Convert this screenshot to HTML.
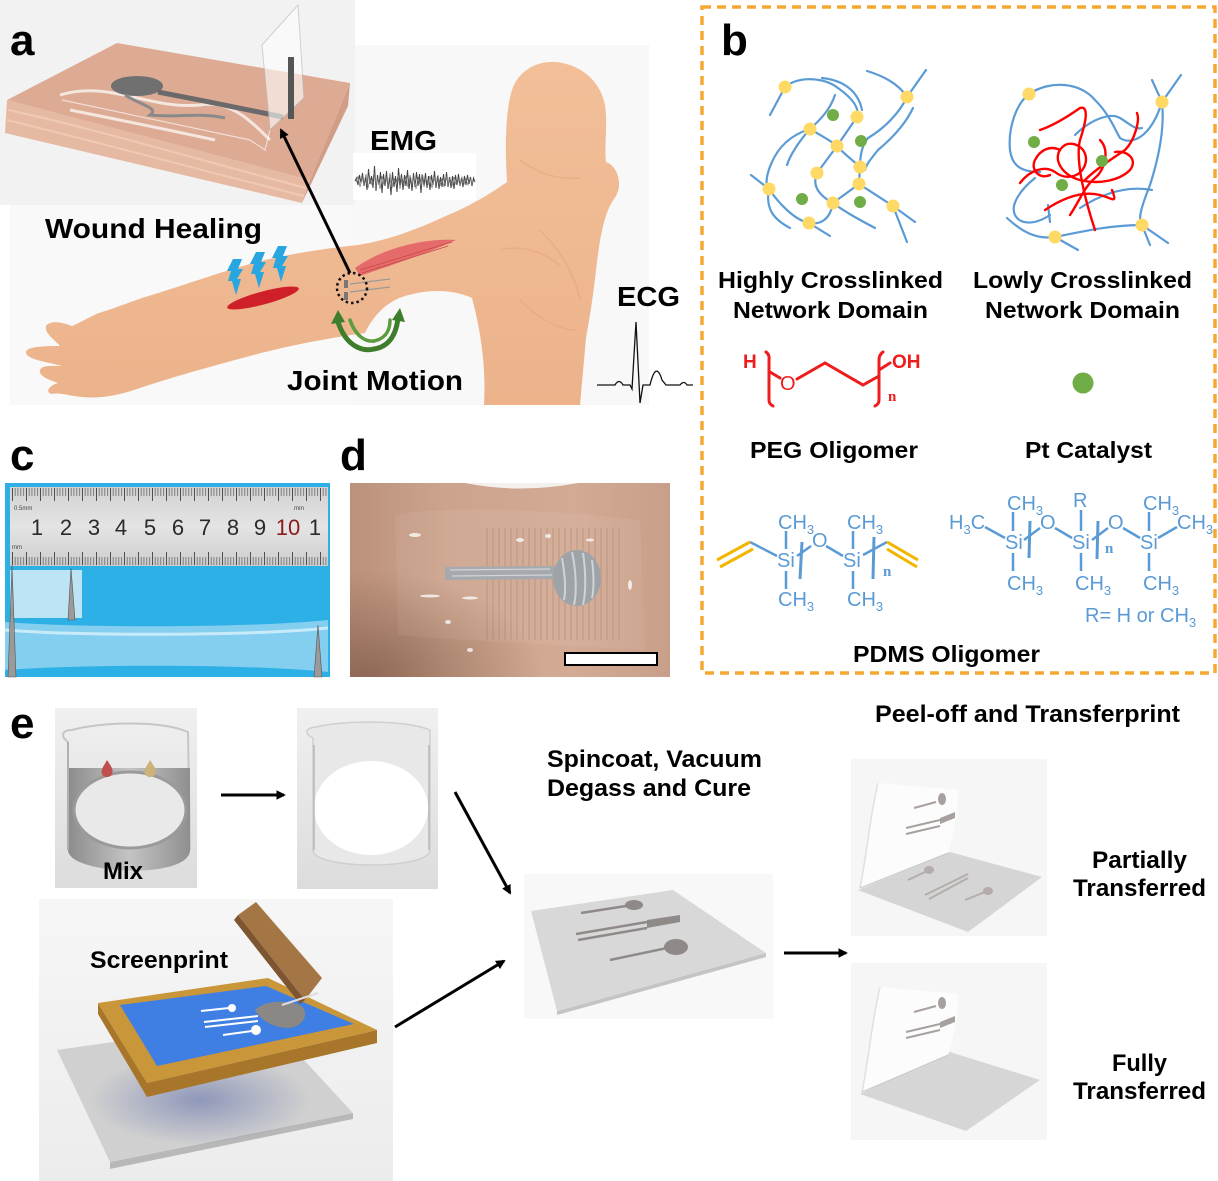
<!DOCTYPE html>
<html><head><meta charset="utf-8"><style>
html,body{margin:0;padding:0;background:#fff;width:1218px;height:1181px;overflow:hidden}
svg{display:block}
</style></head><body>
<svg xmlns="http://www.w3.org/2000/svg" width="1218" height="1181" viewBox="0 0 1218 1181" font-family="'Liberation Sans', Arial, sans-serif">
<defs>
<marker id="ar" viewBox="0 0 10 10" refX="8" refY="5" markerWidth="3.2" markerHeight="3.2" orient="auto"><path d="M0,0 L10,5 L0,10 z" fill="#000"/></marker>
<linearGradient id="skin" x1="0" y1="0" x2="0" y2="1"><stop offset="0" stop-color="#f2bf98"/><stop offset="1" stop-color="#ecb38b"/></linearGradient>
<linearGradient id="bk1" x1="0" y1="0" x2="0" y2="1"><stop offset="0" stop-color="#f0f0f0"/><stop offset="1" stop-color="#dcdcdc"/></linearGradient>
<linearGradient id="band" x1="0" y1="0" x2="1" y2="0"><stop offset="0" stop-color="#8c8c8c"/><stop offset=".5" stop-color="#c4c4c4"/><stop offset="1" stop-color="#8f8f8f"/></linearGradient>
<linearGradient id="sp" x1="0" y1="0" x2="0" y2="1"><stop offset="0" stop-color="#f6f6f6"/><stop offset="1" stop-color="#ececec"/></linearGradient>
<linearGradient id="ruler" x1="0" y1="0" x2="0" y2="1"><stop offset="0" stop-color="#d2d2d2"/><stop offset=".5" stop-color="#e4e4e4"/><stop offset="1" stop-color="#cdcdcd"/></linearGradient>
<linearGradient id="skinD" x1="0" y1="0" x2="1" y2="0"><stop offset="0" stop-color="#bc917b"/><stop offset=".3" stop-color="#cca48d"/><stop offset=".7" stop-color="#d3aa94"/><stop offset="1" stop-color="#c89f89"/></linearGradient>
<radialGradient id="dk" cx="0.05" cy="1" r="0.55"><stop offset="0" stop-color="#7a5644" stop-opacity=".7"/><stop offset="1" stop-color="#7a5644" stop-opacity="0"/></radialGradient>
<radialGradient id="shadowB" cx=".5" cy=".5" r=".5"><stop offset="0" stop-color="#5b6aa8" stop-opacity=".55"/><stop offset="1" stop-color="#5b6aa8" stop-opacity="0"/></radialGradient>
<pattern id="mm" x="12" y="0" width="2.8" height="50" patternUnits="userSpaceOnUse"><rect width="0.7" height="50" fill="#5a5a5a"/></pattern>
<pattern id="cm5" x="12" y="0" width="14" height="50" patternUnits="userSpaceOnUse"><rect width="0.9" height="50" fill="#444"/></pattern>
<pattern id="ridge" x="0" y="0" width="6" height="50" patternUnits="userSpaceOnUse"><rect width="2" height="50" fill="#9c7562" opacity=".2"/></pattern>
</defs>

<!-- ================= PANEL A ================= -->
<rect x="0" y="0" width="355" height="205" fill="#f2f2f2"/>
<rect x="10" y="205" width="345" height="200" fill="#f9f9f9"/>
<rect x="355" y="45" width="294" height="360" fill="#f8f8f8"/>
<rect x="353" y="153" width="123" height="47" fill="#ffffff"/>

<!-- slab -->
<polygon points="310,180 350,83 348,106 302,203" fill="#d29d86"/>
<polygon points="7,100 310,180 302,203 5,133" fill="#e6b9a2"/>
<path d="M8,110 C80,125 200,160 306,188 M7,120 C90,140 200,170 304,196" stroke="#efcab7" stroke-width="2" fill="none"/>
<polygon points="7,100 117,43 350,83 310,180" fill="#ddab94"/>
<path d="M60,95 C110,80 150,110 200,105 C230,100 250,120 270,140 M70,110 C120,120 160,128 215,140" stroke="#ffffff" stroke-width="3" fill="none" opacity=".7"/>
<path d="M62,100 L250,140 L265,150 L270,130" stroke="#ffffff" stroke-width="1.2" fill="none" opacity=".6"/>
<ellipse cx="137" cy="86" rx="26" ry="10" fill="#707070"/>
<path d="M158,92 C200,100 240,108 283,117" stroke="#6a6a6a" stroke-width="5" fill="none"/>
<path d="M125,95 C140,105 160,108 150,115 C180,118 200,112 225,118" stroke="#8a8a8a" stroke-width="3" fill="none"/>
<polygon points="262,45 298,5 304,98 270,130" fill="#ffffff" opacity=".6" stroke="#b8b8b8" stroke-width="1"/>
<rect x="288" y="57" width="6" height="62" fill="#555"/>

<!-- body + arm -->
<path d="M507,182 C505,150 505,112 512,90 C518,72 535,61 555,62 C580,64 600,80 605,105 C608,125 604,145 606,162 C618,166 624,186 614,199 C603,214 599,245 596,270 C593,298 589,322 586,338 L580,405 L484,405 C486,372 482,335 472,298 C450,288 425,290 405,296 C385,302 372,318 365,333 C330,338 290,345 250,356 C205,368 170,378 140,388 C120,395 100,399 82,397 C70,396 60,392 52,394 C45,393 48,386 58,383 C50,380 38,376 40,370 C42,365 52,366 62,366 C48,362 28,360 26,353 C25,347 40,346 60,346 C55,340 44,333 46,326 C50,320 62,322 72,326 C82,322 92,315 102,312 C118,307 130,302 142,298 C185,285 225,270 265,260 C300,252 330,248 358,245 C390,240 420,228 448,215 C470,206 490,194 507,182 Z" fill="url(#skin)"/>
<path d="M540,230 C560,250 575,275 580,300 M520,300 C540,320 560,330 575,330 M500,250 C520,245 540,250 560,265 M520,160 C540,175 560,180 580,178" stroke="#e2a57e" stroke-width="1.5" fill="none" opacity=".6"/>
<!-- muscle -->
<path d="M355,268 C380,250 420,238 456,240 C430,252 395,264 360,276 Z" fill="#e56a6a"/>
<path d="M360,270 L452,242 M362,273 L448,246" stroke="#c94848" stroke-width=".8"/>
<!-- electrodes on arm -->
<rect x="344" y="280" width="4" height="8" fill="#777"/>
<rect x="344" y="292" width="4" height="8" fill="#777"/>
<path d="M350,284 L390,279 M350,292 L390,287" stroke="#999" stroke-width="1.2"/>
<circle cx="352" cy="288" r="15" fill="none" stroke="#111" stroke-width="2.5" stroke-dasharray="2.5 3"/>
<!-- wound -->
<ellipse cx="263" cy="298" rx="37" ry="6.5" fill="#cf1f28" transform="rotate(-15 263 298)"/>
<!-- bolts -->
<g fill="#27a6e0">
<path transform="translate(227,259)" d="M6,0 L15,0 L11,10 L16,10 L10,20 L14,20 L9,36 L5,22 L1,22 L4,12 L0,12 Z"/>
<path transform="translate(250,252)" d="M6,0 L15,0 L11,10 L16,10 L10,20 L14,20 L9,36 L5,22 L1,22 L4,12 L0,12 Z"/>
<path transform="translate(272,246)" d="M6,0 L15,0 L11,10 L16,10 L10,20 L14,20 L9,36 L5,22 L1,22 L4,12 L0,12 Z"/>
</g>
<!-- joint motion arrows -->
<g fill="none" stroke="#3e7d2b" stroke-width="5" stroke-linecap="round">
<path d="M338,322 C346,346 362,352 374,349"/>
<path d="M374,349 C388,347 396,336 398,318"/>
<path d="M350,320 C356,337 366,342 374,341" stroke="#5c9c3e" stroke-width="3.5"/>
<path d="M374,341 C384,339 390,332 390,320" stroke="#5c9c3e" stroke-width="3.5"/>
</g>
<path d="M331,324 L338,310 L345,322 Z" fill="#3e7d2b"/>
<path d="M392,320 L400,308 L405,322 Z" fill="#3e7d2b"/>
<!-- big arrow -->
<line x1="350" y1="273" x2="281" y2="130" stroke="#000" stroke-width="3" marker-end="url(#ar)"/>
<!-- EMG trace -->
<polyline fill="none" stroke="#444" stroke-width="1" points="355,181 356.5,178 358,185 359.5,175 361,183 362.5,173 364,186 365.5,177 367,190 368.5,169 370,184 371.5,176 373,188 374.5,166 376,191 377.5,175 379,185 380.5,172 382,193 383.5,174 385,186 386.5,171 388,189 389.5,177 391,195 392.5,172 394,187 395.5,176 397,192 398.5,168 400,185 401.5,174 403,190 404.5,175 406,186 407.5,170 409,189 410.5,177 412,191 413.5,173 415,187 416.5,172 418,186 419.5,174 421,193 422.5,175 424,185 425.5,173 427,188 428.5,176 430,190 431.5,175 433,185 434.5,171 436,188 437.5,176 439,189 440.5,177 442,187 443.5,174 445,186 446.5,172 448,187 449.5,177 451,188 452.5,176 454,189 455.5,175 457,185 458.5,174 460,186 461.5,178 463,187 464.5,176 466,185 467.5,175 469,184 470.5,177 472,186 473.5,178 475,182"/>
<polyline fill="none" stroke="#777" stroke-width=".7" points="356,182 358,176 360,187 362,178 364,184 366,174 368,188 370,179 372,185 374,172 376,187 378,178 380,189 382,176 384,184 386,177 388,186 390,173 392,188 394,179 396,184 398,175 400,189 402,177 404,186 406,176 408,187 410,175 412,184 414,178 416,189 418,177 420,185 422,174 424,187 426,178 428,185 430,176 432,188 434,178 436,184 438,175 440,186 442,179 444,187 446,176 448,184 450,178 452,186 454,177 456,184 458,179 460,185 462,177 464,184 466,179 468,185 470,178 472,184 474,180"/>
<!-- ECG -->
<path d="M597,385 L615,385 Q619,378 623,385 L630,385 L632,389 L636,322 L640,403 L643,385 L650,385 Q656,360 662,380 L666,385 L680,385 Q684,380 687,385 L693,385" fill="none" stroke="#111" stroke-width="1.3"/>

<g font-weight="bold" fill="#000">
<text x="10" y="55" font-size="44">a</text>
<text x="45" y="238" font-size="28" textLength="217" lengthAdjust="spacingAndGlyphs">Wound Healing</text>
<text x="287" y="390" font-size="28" textLength="176" lengthAdjust="spacingAndGlyphs">Joint Motion</text>
<text x="370" y="150" font-size="28" textLength="67" lengthAdjust="spacingAndGlyphs">EMG</text>
<text x="617" y="306" font-size="28" textLength="63" lengthAdjust="spacingAndGlyphs">ECG</text>
</g>

<!-- ================= PANEL B ================= -->
<rect x="702" y="7" width="513" height="666" fill="none" stroke="#f5a933" stroke-width="3.5" stroke-dasharray="9 6"/>
<text x="721" y="55" font-size="44" font-weight="bold">b</text>

<!-- left network -->
<g fill="none" stroke="#5b9bd5" stroke-width="2.2" stroke-linecap="round">
<path d="M770,115 L785,87 C800,75 825,78 838,88 C852,98 860,108 857,117"/>
<path d="M822,78 C842,80 858,90 862,110"/>
<path d="M867,71 C887,77 900,86 907,97 L926,70"/>
<path d="M907,97 C900,112 885,128 868,138 C862,145 860,155 860,167 L859,184"/>
<path d="M913,108 C905,125 890,140 878,150 C870,160 866,165 865,170"/>
<path d="M857,117 L837,146 L817,173"/>
<path d="M810,129 C790,135 778,148 772,162 C766,175 765,185 769,189"/>
<path d="M835,95 C830,110 820,120 810,129 C800,140 790,155 787,165"/>
<path d="M751,175 L769,189 C780,205 795,220 809,223 C820,225 830,220 833,203"/>
<path d="M817,173 C812,185 818,195 833,203 L859,184 L893,206 L915,222"/>
<path d="M893,206 L907,242"/>
<path d="M809,223 L830,236"/>
<path d="M833,203 C845,212 860,220 875,228"/>
<path d="M837,146 C845,155 855,162 860,167"/>
<path d="M769,189 C765,210 775,220 790,228"/>
<path d="M810,129 C820,135 830,140 837,146"/>
</g>
<g fill="#ffd966">
<circle cx="785" cy="87" r="6.5"/><circle cx="907" cy="97" r="6.5"/><circle cx="810" cy="129" r="6.5"/><circle cx="857" cy="117" r="6.5"/><circle cx="837" cy="146" r="6.5"/><circle cx="860" cy="167" r="6.5"/><circle cx="817" cy="173" r="6.5"/><circle cx="769" cy="189" r="6.5"/><circle cx="859" cy="184" r="6.5"/><circle cx="833" cy="203" r="6.5"/><circle cx="893" cy="206" r="6.5"/><circle cx="809" cy="223" r="6.5"/>
</g>
<g fill="#70ad47">
<circle cx="833" cy="115" r="6"/><circle cx="861" cy="141" r="6"/><circle cx="802" cy="199" r="6"/><circle cx="860" cy="202" r="6"/>
</g>

<!-- right network -->
<g fill="none" stroke="#5b9bd5" stroke-width="2.2" stroke-linecap="round">
<path d="M1029,94 C1050,80 1080,82 1095,100 C1110,115 1115,130 1120,138 C1130,145 1150,140 1162,102 L1181,75"/>
<path d="M1152,80 L1162,102 C1165,130 1158,160 1150,185 C1140,210 1138,220 1142,225 L1150,245"/>
<path d="M1142,225 L1168,243"/>
<path d="M1029,94 C1015,105 1008,130 1010,150 C1012,165 1020,172 1040,172"/>
<path d="M1007,218 C1020,230 1035,240 1055,237 C1080,232 1110,225 1142,225"/>
<path d="M1055,237 L1078,250"/>
<path d="M1075,135 C1090,120 1110,112 1120,118 C1130,124 1135,130 1142,128"/>
<path d="M1035,178 C1020,190 1010,205 1015,215 C1020,225 1035,225 1050,215"/>
<path d="M1048,205 L1050,222"/>
<path d="M1080,208 C1100,195 1125,185 1152,190"/>
</g>
<g fill="none" stroke="#ff0000" stroke-width="2.4" stroke-linecap="round">
<path d="M1020,183 C1030,170 1045,165 1055,172 C1065,180 1080,178 1085,165 C1090,150 1075,140 1065,145 C1050,155 1060,175 1080,180 C1100,185 1120,180 1130,170 C1138,160 1128,150 1115,152"/>
<path d="M1040,130 C1055,125 1070,115 1080,108 C1090,105 1085,125 1080,140 C1075,160 1085,200 1095,230"/>
<path d="M1085,180 C1095,170 1110,160 1125,150 C1135,140 1140,120 1137,113"/>
<path d="M1045,210 C1060,200 1080,190 1100,195 C1112,198 1118,205 1112,190"/>
<path d="M1060,150 C1050,145 1040,150 1035,160 C1030,170 1040,180 1050,175"/>
<path d="M1100,140 C1110,150 1105,170 1095,178 C1085,186 1080,200 1070,215"/>
</g>
<g fill="#ffd966"><circle cx="1029" cy="94" r="6.5"/><circle cx="1162" cy="102" r="6.5"/><circle cx="1055" cy="237" r="6.5"/><circle cx="1142" cy="225" r="6.5"/></g>
<g fill="#70ad47"><circle cx="1034" cy="142" r="6"/><circle cx="1102" cy="161" r="6"/><circle cx="1062" cy="185" r="6"/></g>

<g font-weight="bold" fill="#000" font-size="23">
<text x="718" y="288" textLength="225" lengthAdjust="spacingAndGlyphs">Highly Crosslinked</text>
<text x="733" y="318" textLength="195" lengthAdjust="spacingAndGlyphs">Network Domain</text>
<text x="973" y="288" textLength="219" lengthAdjust="spacingAndGlyphs">Lowly Crosslinked</text>
<text x="985" y="318" textLength="195" lengthAdjust="spacingAndGlyphs">Network Domain</text>
<text x="750" y="458" textLength="168" lengthAdjust="spacingAndGlyphs">PEG Oligomer</text>
<text x="1025" y="458" textLength="127" lengthAdjust="spacingAndGlyphs">Pt Catalyst</text>
<text x="853" y="662" textLength="187" lengthAdjust="spacingAndGlyphs">PDMS Oligomer</text>
</g>

<!-- PEG -->
<g fill="#ee1c1c" stroke="none">
<text x="743" y="368" font-size="19" font-weight="bold">H</text>
<text x="780" y="390" font-size="20">O</text>
<text x="892" y="368" font-size="19" font-weight="bold">OH</text>
<text x="888" y="401" font-size="15" font-weight="bold" font-family="'Liberation Serif', serif">n</text>
</g>
<g fill="none" stroke="#ee1c1c" stroke-width="3" stroke-linecap="round">
<path d="M766,352 C770,355 769,358 769,362 L769,400 C769,403 771,405 773,406"/>
<path d="M883,352 C879,355 879,358 879,362 L879,400 C879,403 877,405 875,406"/>
<path d="M770,372 L780,378"/>
<path d="M797,379 L825,363 L863,385 L879,376"/>
<path d="M879,370 L890,363"/>
</g>
<circle cx="1083" cy="383" r="10.5" fill="#70ad47"/>

<!-- PDMS left -->
<g fill="#5b9bd5" font-size="20">
<text x="778" y="529">CH<tspan font-size="13" dy="5">3</tspan></text>
<text x="777" y="567">Si</text>
<text x="778" y="606">CH<tspan font-size="13" dy="5">3</tspan></text>
<text x="812" y="547">O</text>
<text x="843" y="567">Si</text>
<text x="847" y="529">CH<tspan font-size="13" dy="5">3</tspan></text>
<text x="847" y="606">CH<tspan font-size="13" dy="5">3</tspan></text>
<text x="883" y="576" font-size="15" font-weight="bold" font-family="'Liberation Serif', serif">n</text>
</g>
<g fill="none" stroke="#5b9bd5" stroke-width="2.5">
<path d="M750,542 L777,556"/>
<path d="M786,531 L786,549 M786,571 L786,589"/>
<path d="M797,556 L811,546"/>
<path d="M826,546 L843,556"/>
<path d="M853,531 L853,549 M853,571 L853,589"/>
<path d="M863,555 L887,542"/>
<path d="M802,542 L800,579" stroke-width="3"/>
<path d="M874,537 L873,579" stroke-width="3"/>
</g>
<g stroke="#f2b600" stroke-width="3" fill="none">
<path d="M717,560 L750,542 M720,567 L753,549"/>
<path d="M887,542 L918,560 M887,549 L917,567"/>
</g>

<!-- PDMS right -->
<g fill="#5b9bd5" font-size="20">
<text x="949" y="529">H<tspan font-size="13" dy="5">3</tspan><tspan dy="-5">C</tspan></text>
<text x="1005" y="549">Si</text>
<text x="1007" y="510">CH<tspan font-size="13" dy="5">3</tspan></text>
<text x="1007" y="590">CH<tspan font-size="13" dy="5">3</tspan></text>
<text x="1040" y="529">O</text>
<text x="1073" y="507">R</text>
<text x="1072" y="549">Si</text>
<text x="1075" y="590">CH<tspan font-size="13" dy="5">3</tspan></text>
<text x="1105" y="553" font-size="15" font-weight="bold" font-family="'Liberation Serif', serif">n</text>
<text x="1108" y="529">O</text>
<text x="1140" y="549">Si</text>
<text x="1143" y="510">CH<tspan font-size="13" dy="5">3</tspan></text>
<text x="1143" y="590">CH<tspan font-size="13" dy="5">3</tspan></text>
<text x="1177" y="529">CH<tspan font-size="13" dy="5">3</tspan></text>
<text x="1085" y="622">R= H or CH<tspan font-size="13" dy="5">3</tspan></text>
</g>
<g fill="none" stroke="#5b9bd5" stroke-width="2.5">
<path d="M985,527 L1005,538"/>
<path d="M1013,512 L1013,531 M1013,553 L1013,571"/>
<path d="M1024,540 L1040,528"/>
<path d="M1030,521 L1029,558" stroke-width="3"/>
<path d="M1055,528 L1072,538"/>
<path d="M1081,510 L1081,531 M1081,553 L1081,571"/>
<path d="M1092,540 L1108,528"/>
<path d="M1098,521 L1097,559" stroke-width="3"/>
<path d="M1123,528 L1140,538"/>
<path d="M1149,512 L1149,531 M1149,553 L1149,571"/>
<path d="M1158,538 L1177,527"/>
</g>

<!-- ================= PANEL C ================= -->
<text x="10" y="470" font-size="44" font-weight="bold">c</text>
<rect x="5" y="483" width="325" height="194" fill="#2db0e6"/>
<rect x="10" y="487" width="318" height="79" fill="url(#ruler)"/>
<rect x="12" y="488" width="316" height="8" fill="url(#mm)"/>
<rect x="12" y="488" width="316" height="13" fill="url(#cm5)"/>
<rect x="12" y="557" width="316" height="8" fill="url(#mm)"/>
<rect x="12" y="552" width="316" height="13" fill="url(#cm5)"/>
<text x="14" y="510" font-size="6" fill="#444">0.5mm</text>
<text x="12" y="549" font-size="6" fill="#444">mm</text>
<text x="294" y="510" font-size="6" fill="#444">mm</text>
<g font-size="22" fill="#2a2a2a" text-anchor="middle">
<text x="37" y="535">1</text><text x="66" y="535">2</text><text x="94" y="535">3</text><text x="121" y="535">4</text><text x="150" y="535">5</text><text x="178" y="535">6</text><text x="205" y="535">7</text><text x="233" y="535">8</text><text x="260" y="535">9</text><text x="288" y="535" fill="#8b1a1a">10</text><text x="315" y="535">1</text>
</g>
<rect x="10" y="570" width="72" height="48" fill="#d6edf7" opacity=".85"/>
<path d="M5,622 C80,628 250,628 328,620 L328,672 C250,664 80,664 5,670 Z" fill="#8ed2f0" opacity=".9"/>
<path d="M5,630 C80,636 250,636 328,628" stroke="#c8ebf9" stroke-width="3" fill="none"/>
<g fill="#9a9a9a" stroke="#555" stroke-width=".6">
<path d="M12,565 L16,677 L8,677 Z"/>
<path d="M71,568 L75,620 L68,620 Z"/>
<path d="M318,625 L322,677 L314,677 Z"/>
</g>

<!-- ================= PANEL D ================= -->
<text x="340" y="470" font-size="44" font-weight="bold">d</text>
<rect x="350" y="483" width="320" height="194" fill="url(#skinD)"/>
<rect x="350" y="483" width="320" height="194" fill="url(#dk)"/>
<path d="M465,483 Q520,494 578,483 Z" fill="#f4f0ee"/>
<path d="M395,515 C450,505 560,510 640,520 L645,650 C560,645 450,640 398,635 Z" fill="#ffffff" opacity=".06"/>
<rect x="485" y="528" width="135" height="112" fill="url(#ridge)"/>
<g fill="#ffffff" opacity=".75">
<ellipse cx="415" cy="535" rx="6" ry="2"/><ellipse cx="520" cy="540" rx="4" ry="2"/><ellipse cx="548" cy="536" rx="3" ry="2"/><ellipse cx="590" cy="540" rx="4" ry="1.5"/>
<ellipse cx="430" cy="596" rx="10" ry="1.5"/><ellipse cx="470" cy="598" rx="8" ry="1.5"/><ellipse cx="630" cy="585" rx="2" ry="5"/><ellipse cx="448" cy="622" rx="3" ry="2"/><ellipse cx="470" cy="650" rx="3" ry="2"/>
</g>
<polygon points="445,567 555,566 555,579 445,580" fill="#a6aaae"/>
<path d="M450,570 L550,569 M452,576 L552,575" stroke="#d2d5d8" stroke-width="1.2"/>
<ellipse cx="577" cy="578" rx="24" ry="28" fill="#9ea3a8"/>
<path d="M562,558 C565,575 566,590 564,600 M572,552 C576,570 577,592 574,605 M583,553 C586,572 586,592 583,605 M592,560 C594,575 594,590 592,598" stroke="#d0d3d6" stroke-width="2" fill="none"/>
<rect x="565" y="653" width="92" height="12" fill="#fff" stroke="#000" stroke-width="2"/>

<!-- ================= PANEL E ================= -->
<text x="10" y="738" font-size="44" font-weight="bold">e</text>

<!-- beaker 1 -->
<rect x="55" y="708" width="142" height="180" fill="url(#bk1)"/>
<path d="M68,742 C60,736 62,730 72,730 C100,722 160,720 188,732 L190,850" fill="none" stroke="#c6c6c6" stroke-width="2"/>
<path d="M68,768 L68,850 C68,875 190,880 190,850 L190,768 Z" fill="url(#band)"/>
<ellipse cx="130" cy="810" rx="56" ry="38" fill="#e9e9e9" stroke="#9a9a9a" stroke-width="3"/>
<path d="M68,742 L68,850" stroke="#b0b0b0" stroke-width="2"/>
<path d="M107,760 C111,766 114,770 112,774 C110,778 104,778 102,774 C100,770 104,766 107,760 Z" fill="#c0504d"/>
<path d="M150,760 C154,766 157,770 155,774 C153,778 147,778 145,774 C143,770 147,766 150,760 Z" fill="#cdb27a"/>
<text x="103" y="879" font-size="24" font-weight="bold" textLength="40" lengthAdjust="spacingAndGlyphs">Mix</text>

<line x1="221" y1="795" x2="284" y2="795" stroke="#000" stroke-width="3" marker-end="url(#ar)"/>

<!-- beaker 2 -->
<rect x="297" y="708" width="141" height="181" fill="url(#bk1)"/>
<path d="M313,738 C303,733 306,728 316,727 C345,720 405,720 430,730 L430,850 C430,870 313,870 313,850 Z" fill="#e8e8e8" stroke="#cfcfcf" stroke-width="1.5"/>
<ellipse cx="371" cy="808" rx="57" ry="47" fill="#ffffff"/>
<path d="M314,745 L314,850 M429,745 L429,850" stroke="#b8b8b8" stroke-width="1.5"/>

<!-- screenprint -->
<rect x="39" y="899" width="354" height="282" fill="url(#sp)"/>
<polygon points="110,1162 353,1113 353,1119 110,1169" fill="#b8b8b8"/>
<polygon points="57,1050 267,1020 353,1113 110,1162" fill="#d0d0d0"/>
<ellipse cx="200" cy="1100" rx="110" ry="45" fill="url(#shadowB)"/>
<polygon points="98,1003 147,1083 377,1030 377,1043 147,1097 98,1014" fill="#a8762a"/>
<polygon points="98,1003 268,978 377,1030 147,1083" fill="#c9963a"/>
<polygon points="120,1005 266,986 354,1024 157,1066" fill="#3f7fe3"/>
<path d="M255,1010 C265,1000 285,1000 300,1005 C310,1012 305,1025 290,1028 C275,1028 262,1022 255,1010 Z" fill="#8a8784"/>
<polygon points="238,915 256,902 322,978 305,1000" fill="#a57645"/>
<polygon points="238,915 305,1000 300,1004 234,920" fill="#7d5530"/>
<path d="M282,1005 L318,993" stroke="#ddd" stroke-width="2"/>
<g stroke="#fff" stroke-width="2" fill="#fff">
<line x1="201" y1="1011" x2="229" y2="1008"/><circle cx="232" cy="1008" r="3"/>
<line x1="204" y1="1022" x2="258" y2="1016"/><line x1="205" y1="1027" x2="258" y2="1021"/>
<line x1="223" y1="1035" x2="252" y2="1031"/><circle cx="256" cy="1030" r="4"/>
</g>
<text x="90" y="968" font-size="24" font-weight="bold" textLength="138" lengthAdjust="spacingAndGlyphs">Screenprint</text>

<line x1="455" y1="792" x2="510" y2="893" stroke="#000" stroke-width="3" marker-end="url(#ar)"/>
<line x1="395" y1="1027" x2="504" y2="961" stroke="#000" stroke-width="3" marker-end="url(#ar)"/>

<!-- center plate -->
<rect x="524" y="874" width="249" height="145" fill="#f8f8f8"/>
<polygon points="557,1011 766,953 766,957 557,1015" fill="#c4c4c4"/>
<polygon points="531,911 673,890 766,953 557,1011" fill="#d8d8d8"/>
<g stroke="#8f8a88" stroke-width="2.5" fill="#8f8a88">
<line x1="581" y1="913" x2="626" y2="906"/><ellipse cx="634" cy="905" rx="9" ry="5" stroke="none"/>
<line x1="576" y1="934" x2="647" y2="922"/><line x1="578" y1="940" x2="647" y2="928"/>
<polygon points="647,920 680,915 680,922 647,928" stroke="none"/>
<line x1="610" y1="960" x2="667" y2="948"/><ellipse cx="676" cy="947" rx="12" ry="8" stroke="none"/>
</g>
<line x1="784" y1="953" x2="846" y2="953" stroke="#000" stroke-width="3" marker-end="url(#ar)"/>

<text x="547" y="767" font-size="24" font-weight="bold" textLength="215" lengthAdjust="spacingAndGlyphs">Spincoat, Vacuum</text>
<text x="547" y="796" font-size="24" font-weight="bold" textLength="204" lengthAdjust="spacingAndGlyphs">Degass and Cure</text>
<text x="875" y="722" font-size="24" font-weight="bold" textLength="305" lengthAdjust="spacingAndGlyphs">Peel-off and Transferprint</text>

<!-- partially transferred -->
<rect x="851" y="759" width="196" height="177" fill="#f6f6f6"/>
<polygon points="858,890 950,852 1042,877 968,932" fill="#d5d5d5"/>
<g stroke="#b5adab" stroke-width="2" fill="#b5adab">
<line x1="908" y1="880" x2="925" y2="872"/><ellipse cx="929" cy="870" rx="5" ry="4" stroke="none"/>
<line x1="925" y1="895" x2="968" y2="874"/><line x1="929" y1="899" x2="968" y2="878"/>
<line x1="965" y1="900" x2="985" y2="892"/><ellipse cx="988" cy="891" rx="5" ry="4" stroke="none"/>
</g>
<path d="M860,888 C866,860 870,815 878,783 L958,790 C958,810 955,830 948,853 Z" fill="#fcfcfc"/>
<path d="M860,888 C866,860 870,815 878,783" stroke="#e0e0e0" stroke-width="1.5" fill="none"/>
<path d="M860,888 L948,853" stroke="#c9c9c9" stroke-width="1"/>
<g stroke="#a8a09e" stroke-width="2" fill="#a8a09e">
<line x1="914" y1="808" x2="936" y2="802"/><ellipse cx="942" cy="799" rx="4" ry="6" stroke="none"/>
<line x1="906" y1="828" x2="940" y2="820"/><line x1="906" y1="834" x2="940" y2="826"/>
<polygon points="940,818 955,812 955,818 940,824" stroke="none"/>
</g>

<!-- fully transferred -->
<rect x="851" y="963" width="196" height="177" fill="#f6f6f6"/>
<polygon points="860,1094 950,1052 1040,1080 966,1131" fill="#d6d6d6"/>
<path d="M862,1092 C868,1064 872,1020 880,987 L958,994 C958,1014 955,1034 948,1055 Z" fill="#fcfcfc"/>
<path d="M862,1092 C868,1064 872,1020 880,987" stroke="#e0e0e0" stroke-width="1.5" fill="none"/>
<path d="M862,1092 L948,1055" stroke="#c9c9c9" stroke-width="1"/>
<g stroke="#a8a09e" stroke-width="2" fill="#a8a09e">
<line x1="914" y1="1012" x2="936" y2="1006"/><ellipse cx="942" cy="1003" rx="4" ry="6" stroke="none"/>
<line x1="906" y1="1032" x2="940" y2="1024"/><line x1="906" y1="1038" x2="940" y2="1030"/>
<polygon points="940,1022 955,1016 955,1022 940,1028" stroke="none"/>
</g>

<g font-size="24" font-weight="bold">
<text x="1092" y="868" textLength="95" lengthAdjust="spacingAndGlyphs">Partially</text>
<text x="1073" y="896" textLength="133" lengthAdjust="spacingAndGlyphs">Transferred</text>
<text x="1112" y="1071" textLength="55" lengthAdjust="spacingAndGlyphs">Fully</text>
<text x="1073" y="1099" textLength="133" lengthAdjust="spacingAndGlyphs">Transferred</text>
</g>
</svg>
</body></html>
